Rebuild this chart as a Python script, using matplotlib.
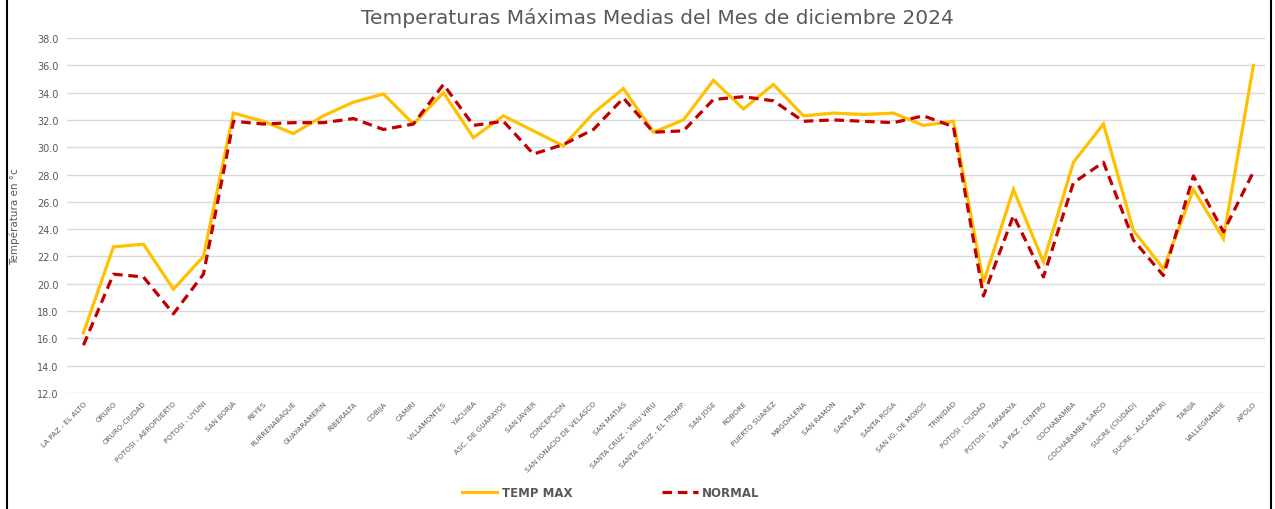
import matplotlib
matplotlib.use("Agg")
import matplotlib.pyplot as plt
from matplotlib.lines import Line2D

stations = ["LA PAZ - EL ALTO", "ORURO", "ORURO-CIUDAD", "POTOSI - AEROPUERTO", "POTOSI - UYUNI",
            "SAN BORJA", "REYES", "RURRENABAQUE", "GUAYARAMERIN", "RIBERALTA", "COBIJA", "CAMIRI",
            "VILLAMONTES", "YACUIBA", "ASC. DE GUARAYOS", "SAN JAVIER", "CONCEPCION",
            "SAN IGNACIO DE VELASCO", "SAN MATIAS", "SANTA CRUZ - VIRU VIRU", "SANTA CRUZ - EL TROMP.",
            "SAN JOSE", "ROBORE", "PUERTO SUAREZ", "MAGDALENA", "SAN RAMON", "SANTA ANA", "SANTA ROSA",
            "SAN IG. DE MOXOS", "TRINIDAD", "POTOSI - CIUDAD", "POTOSI - TARAPAYA", "LA PAZ - CENTRO",
            "COCHABAMBA", "COCHABAMBA SARCO", "SUCRE (CIUDAD)", "SUCRE - ALCANTARI", "TARIJA",
            "VALLEGRANDE", "APOLO"]

temp_max = [16.4, 22.7, 22.9, 19.6, 22.0, 32.5, 31.9, 31.0, 32.3, 33.3, 33.9, 31.7,
            34.0, 30.7, 32.3, 31.2, 30.1, 32.5, 34.3, 31.1, 32.0, 34.9, 32.8, 34.6,
            32.3, 32.5, 32.4, 32.5, 31.6, 31.9, 20.1, 26.9, 21.6, 28.9, 31.7, 23.9,
            21.1, 26.9, 23.3, 36.0]

normal = [15.5, 20.7, 20.5, 17.8, 20.7, 31.9, 31.7, 31.8, 31.8, 32.1, 31.3, 31.7,
          34.6, 31.6, 31.9, 29.5, 30.2, 31.3, 33.6, 31.1, 31.2, 33.5, 33.7, 33.4,
          31.9, 32.0, 31.9, 31.8, 32.3, 31.5, 19.1, 25.0, 20.5, 27.4, 28.9, 23.2,
          20.6, 27.9, 23.8, 28.2]

yticks = [12, 14, 16, 18, 20, 22, 24, 26, 28, 30, 32, 34, 36, 38]

fig = plt.figure(figsize=(12.75, 5.1), dpi=100)
ax = fig.add_axes([0.0525, 0.2275, 0.94, 0.696])

x = list(range(len(stations)))
ax.plot(x, temp_max, color="#FFC000", lw=2.3, label="TEMP MAX", solid_joinstyle="miter")
ax.plot(x, normal, color="#C00000", lw=2.3, ls=(0, (3, 1.8)), label="NORMAL")

ax.set_ylim(12, 38)
ax.set_xlim(-0.55, len(stations) - 0.6)
ax.set_yticks(yticks)
ax.set_yticklabels([f"{v:.1f}" for v in yticks], fontsize=7, color="#595959")
ax.set_xticks(x)
ax.set_xticklabels(stations, rotation=45, ha="right", rotation_mode="anchor",
                   fontsize=5.2, color="#595959")
ax.tick_params(length=0, pad=6)
ax.tick_params(axis="x", pad=5)
ax.grid(axis="y", color="#d9d9d9", lw=1)
ax.set_axisbelow(True)
for s in ax.spines.values():
    s.set_visible(False)

ax.set_ylabel("Températura en °c", fontsize=7.5, color="#595959", labelpad=12)
fig.suptitle("Temperaturas Máximas Medias del Mes de diciembre 2024", fontsize=14.5,
             color="#595959", x=0.516, y=0.985)

leg = fig.legend(loc="center", bbox_to_anchor=(0.479, 0.033), ncol=2, frameon=False,
                 fontsize=8.5, handlelength=3.0, columnspacing=7.6, handletextpad=0.4)
for t in leg.get_texts():
    t.set_color("#595959")
    t.set_fontweight("bold")

fig.add_artist(Line2D([0.0055, 0.0055], [0, 1], color="black", lw=1.5, transform=fig.transFigure))
fig.add_artist(Line2D([0.9965, 0.9965], [0, 1], color="black", lw=1.5, transform=fig.transFigure))

fig.savefig("out.png", dpi=100)
